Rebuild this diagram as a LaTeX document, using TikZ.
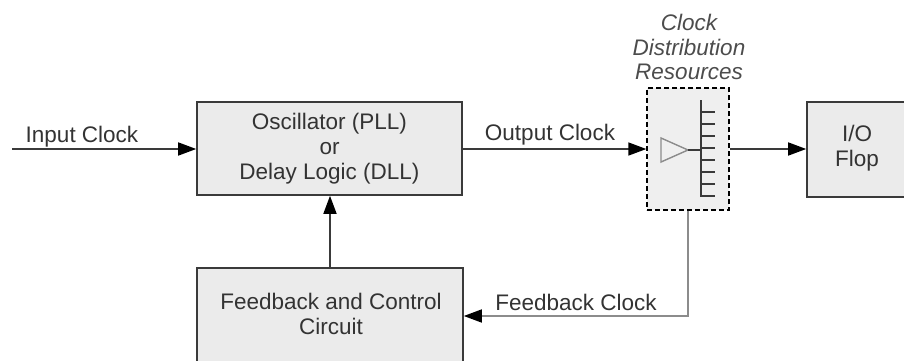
\documentclass[tikz,border=0pt]{standalone}
\usepackage{fontspec}
\setmainfont{Liberation Sans}
\usetikzlibrary{arrows.meta,calc}
\definecolor{boxfill}{HTML}{EBEBEB}
\definecolor{boxline}{HTML}{3A3A3A}
\definecolor{txt}{HTML}{333333}
\definecolor{fbgray}{HTML}{8C8C8C}
\begin{document}
\begin{tikzpicture}[x=1pt,y=-1pt,
  every node/.style={font=\fontsize{22.5}{25}\selectfont, text=txt},
  blk/.style={draw=boxline, fill=boxfill, line width=1.6pt, inner sep=0pt},
  lbl/.style={inner sep=0pt, align=center},
  sig/.style={draw=boxline, line width=1.6pt, -{Triangle[length=18pt,width=13pt,color=black]}},
  fbsig/.style={draw=fbgray, line width=1.6pt, -{Triangle[length=18pt,width=13pt,color=black]}}
]
\useasboundingbox (0,0) rectangle (904,360);
\clip (0,0) rectangle (904,360);
% blocks
\node[blk, minimum width=265pt, minimum height=93pt] (osc) at (329.5,148.5) {};
\node[lbl] (osct) at (osc.center) {Oscillator (PLL)\\or\\Delay Logic (DLL)};
\node[blk, minimum width=266pt, minimum height=120pt] (fb) at (330,328) {};
\node[lbl] (fbt) at (331,314) {Feedback and Control\\Circuit};
\node[blk, minimum width=100pt, minimum height=95pt] (io) at (857,149.5) {};
\node[lbl] (iot) at (857,148.5) {I/O\\Flop};
\node[draw=black, dash pattern=on 5pt off 3pt, fill=boxfill!80!white, line width=1.4pt, minimum width=82pt, minimum height=122pt, inner sep=0pt] (dist) at (688,149) {};
\node[lbl, font=\fontsize{22.5}{24.5}\selectfont\itshape, text=black!70] (distl) at (689,47) {Clock\\Distribution\\Resources};
% distribution internals
\draw[fbgray, line width=1.4pt] (661,138) -- (661,162) -- (688,150) -- cycle;
\draw[boxline, line width=1.4pt] (688,150) -- (701,150);
\draw[boxline, line width=1.6pt] (701,100) -- (701,196) -- (715,196);
\foreach \yy in {112,124,136,148,160,172,184} \draw[boxline, line width=1.4pt] (701,\yy) -- (715,\yy);
% connectors
\coordinate (inl) at (12,149);
\draw[sig] (inl) -- (osc.west |- inl);
\node[lbl] (inlbl) at (82,137) {Input Clock};
\draw[sig] (osc.east |- dist.west) -- (dist.west);
\node[lbl] (outlbl) at (550,135) {Output Clock};
\draw[sig] (dist.east) -- (io.west |- dist.east);
\draw[sig] (fb.north) -- (fb.north |- osc.south);
\coordinate (fby) at (0,316);
\draw[fbsig] (dist.south) |- (fb.east |- fby);
\node[lbl] (fblbl) at (576,302) {Feedback Clock};
\end{tikzpicture}
\end{document}
